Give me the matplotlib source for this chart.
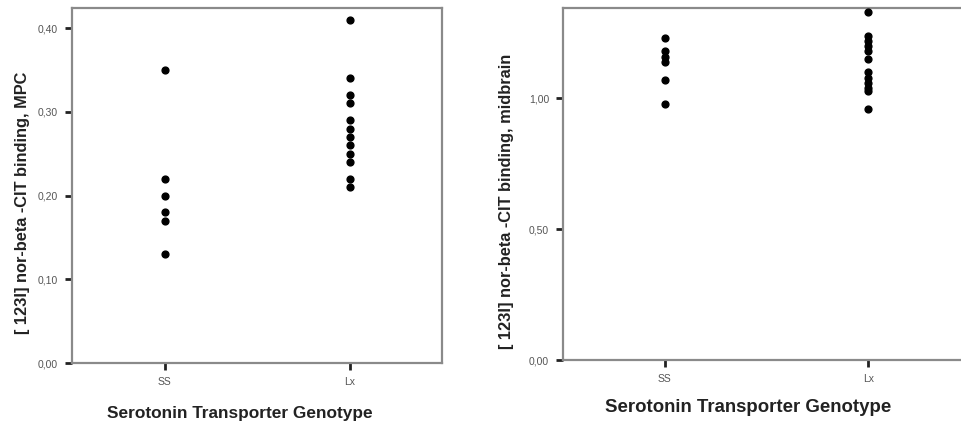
import matplotlib
matplotlib.use("Agg")
import matplotlib.pyplot as plt

plt.rcParams["font.family"] = ["Liberation Sans", "DejaVu Sans"]

# genotype groups
groups = ["SS", "Lx"]

# MPC binding
mpc_ss = [0.35, 0.22, 0.20, 0.18, 0.17, 0.13]
mpc_lx = [0.41, 0.34, 0.32, 0.31, 0.29, 0.28, 0.27, 0.26, 0.25, 0.24, 0.22, 0.21]

# midbrain binding
mid_ss = [1.23, 1.18, 1.16, 1.14, 1.07, 0.98]
mid_lx = [1.33, 1.24, 1.22, 1.20, 1.18, 1.15, 1.10, 1.08, 1.06, 1.04, 1.03, 0.96]

xlabel = "Serotonin Transporter Genotype"


def make_panel(ax, ss, lx, ylim, yticks, ylabel, ysize, xsize, xlab_pos):
    ax.scatter([0] * len(ss), ss, s=24, color="black", zorder=3, clip_on=False)
    ax.scatter([1] * len(lx), lx, s=24, color="black", zorder=3, clip_on=False)
    ax.set_xlim(-0.5, 1.5)
    ax.set_ylim(*ylim)
    ax.set_xticks([0, 1])
    ax.set_xticklabels(groups, fontsize=7.5, color="#555555")
    ax.set_yticks(yticks)
    ax.set_yticklabels([f"{t:.2f}".replace(".", ",") for t in yticks],
                       fontsize=7.5, color="#555555")
    ax.tick_params(axis="both", length=5, width=2, color="#222222", pad=5)
    for sp in ax.spines.values():
        sp.set_color("#8a8a8a")
        sp.set_linewidth(1.6)
    ax.set_ylabel(ylabel, fontsize=ysize, fontweight="bold", color="#222222")
    ax.set_xlabel(xlabel, fontsize=xsize, fontweight="bold", color="#222222")
    ax.xaxis.set_label_coords(*xlab_pos)


fig = plt.figure(figsize=(9.61, 4.23), dpi=100)

ax1 = fig.add_axes([72 / 961, 60 / 423, 370 / 961, 355 / 423])
make_panel(ax1, mpc_ss, mpc_lx, (0, 0.424), [0.0, 0.1, 0.2, 0.3, 0.4],
           "[ 123I] nor-beta -CIT binding, MPC", 11.8, 12.4, (0.454, -0.12))
ax1.yaxis.set_label_coords(-0.113, 0.452)

ax2 = fig.add_axes([563 / 961, 63 / 423, 407 / 961, 352 / 423])
make_panel(ax2, mid_ss, mid_lx, (0, 1.346), [0.0, 0.5, 1.0],
           "[ 123I] nor-beta -CIT binding, midbrain", 11.8, 13.4, (0.455, -0.11))
ax2.yaxis.set_label_coords(-0.12, 0.452)

fig.savefig("out.png", dpi=100)
